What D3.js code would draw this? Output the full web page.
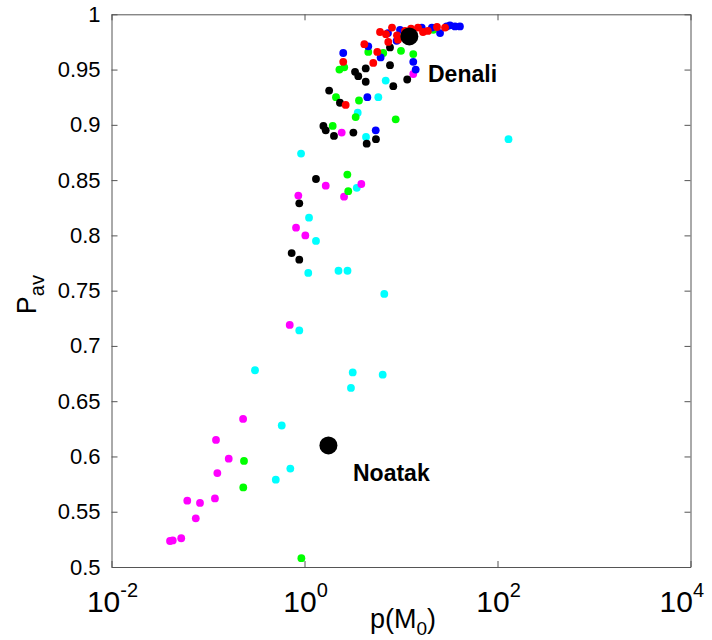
<!DOCTYPE html>
<html>
<head>
<meta charset="utf-8">
<script src="https://cdn.jsdelivr.net/npm/d3@7"></script>
<style>
	body { margin: 0; background: #fff; }
	svg { display: block; font-family: Arial, "Liberation Sans", sans-serif; }
</style>
</head>
<body>
<svg id="chart" width="712" height="640"></svg>
<script>
// [p(M0), Pav] pairs
const cyanPts = [
	[6.94, 0.940], [5.82, 0.925], [3.56, 0.911], [4.34, 0.889], [130, 0.887],
	[0.921, 0.874], [3.48, 0.843], [1.114, 0.816], [1.315, 0.795], [1.094, 0.766],
	[2.25, 0.768], [2.79, 0.768], [6.71, 0.747], [0.883, 0.714], [0.307, 0.678],
	[3.16, 0.676], [6.46, 0.674], [3.03, 0.662], [0.581, 0.628], [0.713, 0.589],
	[0.504, 0.579],
];
const magentaPts = [
	[13.4, 0.946], [2.43, 0.893], [1.66, 0.845], [3.88, 0.8465], [2.57, 0.835],
	[0.863, 0.836], [0.817, 0.807], [1.02, 0.800], [0.703, 0.719], [0.231, 0.634],
	[0.121, 0.615], [0.164, 0.598], [0.125, 0.585], [0.061, 0.560], [0.0826, 0.558],
	[0.118, 0.562], [0.0747, 0.544], [0.0528, 0.526], [0.0404, 0.5235], [0.0431, 0.524],
];
const greenPts = [
	[21.6, 0.986], [4.58, 0.966], [6.55, 0.965], [10.0, 0.967], [13.4, 0.964],
	[2.30, 0.950], [2.58, 0.952], [2.12, 0.925], [3.67, 0.922], [3.39, 0.907],
	[8.81, 0.905], [1.96, 0.899], [2.78, 0.855], [2.84, 0.840], [0.236, 0.596],
	[0.232, 0.572], [0.928, 0.508],
];
const blackPts = [
	[7.69, 0.970], [7.69, 0.954], [11.6, 0.941], [8.32, 0.935], [3.34, 0.948],
	[3.61, 0.944], [4.31, 0.951], [4.31, 0.939], [1.80, 0.931], [2.33, 0.920],
	[1.57, 0.899], [1.66, 0.895], [2.02, 0.890], [3.21, 0.893], [4.41, 0.883],
	[5.5, 0.887], [1.315, 0.851], [0.883, 0.829], [0.736, 0.784], [0.883, 0.778],
];
const bluePts = [
	[7.33, 0.983], [9.77, 0.986], [16.4, 0.988], [20.9, 0.988], [25.4, 0.983],
	[29.7, 0.989], [32.2, 0.990], [36.3, 0.989], [40.8, 0.989], [9.0, 0.976],
	[2.52, 0.965], [4.58, 0.971], [6.15, 0.961], [13.4, 0.957], [14.2, 0.950],
	[4.48, 0.925], [5.47, 0.895],
];
const redPts = [
	[6.06, 0.984], [6.99, 0.982], [8.07, 0.988], [9.09, 0.981], [11.0, 0.985],
	[12.7, 0.987], [15.0, 0.988], [16.9, 0.984], [19.0, 0.985], [23.6, 0.9885],
	[28.6, 0.988], [7.38, 0.975], [9.31, 0.977], [4.17, 0.973], [5.68, 0.966],
	[5.16, 0.956], [2.52, 0.957], [2.67, 0.918],
];
const bigPts = [
	{ name: "Denali", p: 12.2, v: 0.980 },
	{ name: "Noatak", p: 1.77, v: 0.610 },
];

const xTickExp = [-2, 0, 2, 4];
const yTicks = [0.5, 0.55, 0.6, 0.65, 0.7, 0.75, 0.8, 0.85, 0.9, 0.95, 1];

const series = [
	{ color: "#00ffff", pts: cyanPts },
	{ color: "#ff00ff", pts: magentaPts },
	{ color: "#00ff00", pts: greenPts },
	{ color: "#000000", pts: blackPts },
	{ color: "#0000ff", pts: bluePts },
	{ color: "#ff0000", pts: redPts },
];

const plotL = 111.5, plotR = 690.5, plotT = 14.3, plotB = 567;
const svg = d3.select("#chart");

const x = d3.scaleLog().domain([1e-2, 1e4]).range([plotL, plotR]);
const y = d3.scaleLinear().domain([0.5, 1]).range([plotB, plotT]);

const axisColor = "#555";
const xTickVals = xTickExp.map((e) => Math.pow(10, e));

// Axes, ticks pointing inward on all four sides
const gl = svg.append("g").attr("transform", `translate(${plotL},0)`)
	.call(d3.axisLeft(y).tickValues(yTicks).tickSizeInner(-6).tickSizeOuter(0)
		.tickPadding(11).tickFormat((d) => String(d)));
const gr = svg.append("g").attr("transform", `translate(${plotR},0)`)
	.call(d3.axisRight(y).tickValues(yTicks).tickSizeInner(-6).tickSizeOuter(0).tickFormat(""));
const gb = svg.append("g").attr("transform", `translate(0,${plotB})`)
	.call(d3.axisBottom(x).tickValues(xTickVals).tickSizeInner(-6).tickSizeOuter(0).tickFormat(""));
const gt = svg.append("g").attr("transform", `translate(0,${plotT})`)
	.call(d3.axisTop(x).tickValues(xTickVals).tickSizeInner(-6).tickSizeOuter(0).tickFormat(""));

for (const g of [gl, gr, gb, gt]) {
	g.selectAll("path, line").attr("stroke", axisColor);
	g.selectAll("text").attr("fill", "#000").style("font-size", "22px")
		.style("font-family", "Arial, 'Liberation Sans', sans-serif");
}

// x tick labels as 10^n (last one pulled in so it stays on the page)
const xl = svg.append("g");
xTickExp.forEach((e, i) => {
	const last = i === xTickExp.length - 1;
	const t = xl.append("text")
		.attr("x", last ? 704 : x(Math.pow(10, e)) + 1)
		.attr("y", 612)
		.attr("text-anchor", last ? "end" : "middle")
		.style("font-size", "30px");
	t.append("tspan").text("10");
	t.append("tspan").attr("dy", -15).style("font-size", "20px").text(e < 0 ? "-" + (-e) : String(e));
});

// axis titles
const xt = svg.append("text")
	.attr("x", (plotL + plotR) / 2 + 2)
	.attr("y", 628)
	.attr("text-anchor", "middle")
	.style("font-size", "27px");
xt.append("tspan").text("p(M");
xt.append("tspan").attr("dy", 7).style("font-size", "19px").text("0");
xt.append("tspan").attr("dy", -7).text(")");

const yt = svg.append("text")
	.attr("transform", `translate(36,${(plotT + plotB) / 2 + 4}) rotate(-90)`)
	.attr("text-anchor", "middle")
	.style("font-size", "27px");
yt.append("tspan").text("P");
yt.append("tspan").attr("dy", 8).style("font-size", "20px").text("av");

// scatter points
const plot = svg.append("g");
for (const s of series) {
	plot.selectAll(null)
		.data(s.pts)
		.enter()
		.append("circle")
		.attr("cx", (d) => x(d[0]))
		.attr("cy", (d) => y(d[1]))
		.attr("r", 3.9)
		.attr("fill", s.color);
}

plot.selectAll(null)
	.data(bigPts)
	.enter()
	.append("circle")
	.attr("cx", (d) => x(d.p))
	.attr("cy", (d) => y(d.v))
	.attr("r", 9)
	.attr("fill", "#000");

// labels for the two marked sites
svg.append("text").attr("x", 428).attr("y", 82)
	.style("font-size", "23px").style("font-weight", "bold").text("Denali");
svg.append("text").attr("x", 353).attr("y", 481)
	.style("font-size", "23px").style("font-weight", "bold").text("Noatak");
</script>
</body>
</html>
